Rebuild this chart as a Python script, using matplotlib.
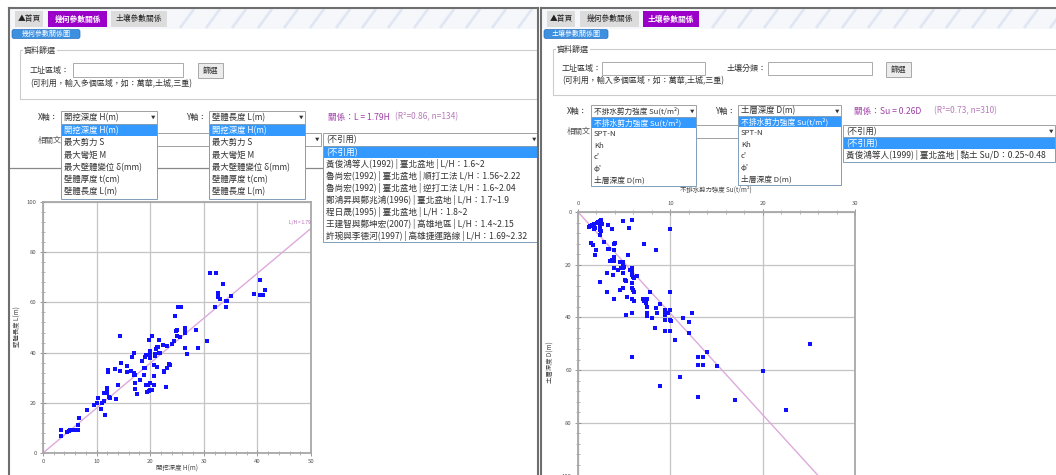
import matplotlib
matplotlib.use('Agg')
import matplotlib.pyplot as plt
from matplotlib.patches import Rectangle, FancyBboxPatch
from matplotlib.ticker import MultipleLocator

plt.rcParams['font.family'] = ['Noto Sans CJK TC', 'DejaVu Sans']

# ---- data ----
# left chart: excavation depth H(m) vs wall length L(m)
wall_H = [3.4, 3.4, 4.5, 5.1, 5.4, 6.0, 6.3, 6.6, 4.8, 6.5, 6.8, 8.3, 9.6, 10.1, 10.2,
          10.9, 11.0, 11.6, 11.4, 11.7, 11.9, 11.4, 11.9, 12.0, 12.3, 12.5, 12.2, 12.2,
          13.5, 13.6, 13.9, 14.4, 14.4, 14.6, 15.7, 15.7, 16.5, 16.6, 16.9, 16.9, 17.2,
          17.0, 17.1, 17.2, 17.6, 18.1, 18.4, 18.8, 19.0, 18.8, 19.1, 19.2, 19.3, 19.6,
          19.4, 19.8, 19.7, 19.9, 20.0, 19.9, 20.0, 19.9, 20.0, 20.3, 20.3, 20.7, 20.8,
          20.8, 20.9, 20.9, 21.1, 21.2, 21.5, 21.2, 21.6, 21.9, 21.7, 22.3, 22.5, 22.6,
          23.1, 23.0, 23.1, 23.6, 23.7, 24.0, 24.5, 24.7, 24.8, 25.0, 25.0, 25.1, 25.4,
          25.7, 25.5, 26.5, 26.5, 26.5, 26.5, 26.8, 28.6, 29.0, 30.6, 31.1, 32.1, 32.3,
          32.7, 32.7, 33.0, 33.5, 34.1, 34.3, 34.2, 35.0, 39.4, 40.4, 40.5, 40.8, 41.1,
          41.4]
wall_L = [9.0, 6.9, 8.3, 9.0, 9.0, 9.0, 9.0, 9.0, 8.6, 11.0, 13.9, 17.0, 19.2, 19.9, 21.9,
          17.5, 19.9, 15.0, 20.8, 23.8, 23.8, 24.0, 25.6, 25.9, 22.5, 21.9, 33.1, 32.1,
          33.4, 21.5, 26.9, 46.8, 32.8, 35.9, 34.8, 32.1, 32.5, 38.4, 39.7, 31.8, 31.1,
          31.0, 27.8, 25.4, 23.4, 28.9, 36.8, 33.8, 33.8, 30.9, 38.4, 39.1, 26.9, 27.1,
          24.5, 24.6, 45.0, 40.7, 39.7, 38.8, 37.9, 27.8, 25.2, 25.2, 46.6, 30.5, 26.9,
          35.1, 38.8, 39.4, 41.5, 42.4, 42.4, 34.4, 40.0, 39.7, 44.9, 42.9, 32.7, 32.1,
          42.8, 26.2, 33.8, 35.5, 35.1, 43.4, 44.8, 54.6, 48.7, 49.0, 46.8, 58.0, 58.0,
          58.0, 46.4, 47.9, 48.9, 49.7, 42.0, 39.3, 49.0, 42.0, 44.8, 71.9, 58.0, 71.9,
          63.8, 62.0, 61.2, 67.3, 60.7, 60.7, 58.0, 62.5, 63.3, 68.9, 62.9, 62.9, 62.9,
          64.9]

# right chart: undrained shear strength Su(t/m2) vs soil depth D(m)
soil_su = [1.15, 1.33, 1.5, 1.77, 1.8, 1.75, 2.05, 2.2, 2.4, 2.45, 2.4, 2.4, 2.4, 2.5, 2.35,
           2.55, 2.4, 3.3, 3.7, 4.9, 5.5, 5.9, 10.0, 1.4, 1.6, 2.0, 1.8, 2.8, 3.3, 3.4, 3.9,
           4.0, 3.9, 3.9, 3.5, 3.7, 3.9, 5.4, 7.2, 8.5, 2.4, 3.1, 3.1, 3.9, 3.8, 3.9, 4.3,
           4.5, 4.6, 4.7, 4.9, 4.9, 5.0, 4.9, 4.9, 4.9, 5.1, 5.2, 5.3, 5.2, 5.6, 5.8, 5.9,
           5.9, 5.9, 6.0, 6.1, 5.9, 6.0, 6.1, 5.9, 5.9, 6.1, 5.9, 5.9, 6.4, 7.0, 7.2, 7.4,
           7.5, 7.4, 7.5, 7.5, 7.5, 7.8, 8.0, 8.3, 8.5, 8.6, 8.9, 8.9, 9.4, 9.4, 9.4, 9.4,
           9.4, 9.6, 9.7, 10.0, 10.0, 10.0, 10.1, 10.0, 10.5, 11.0, 11.4, 12.0, 12.0, 12.4,
           13.0, 13.0, 13.0, 13.5, 13.5, 14.0, 15.0, 17.0, 20.0, 22.5, 25.1]
soil_d = [5.7, 5.2, 4.9, 4.4, 6.1, 6.3, 4.1, 3.9, 3.5, 3.2, 4.8, 5.4, 6.7, 7.3, 5.9,
          4.5, 8.6, 4.8, 6.5, 3.5, 6.1, 3.2, 6.5, 11.8, 12.4, 14.3, 16.2, 11.2, 14.1, 14.1,
          12.2, 11.8, 14.3, 16.9, 18.5, 18.1, 18.5, 16.2, 12.0, 14.6, 26.4, 23.2, 30.2,
          21.3, 23.8, 33.1, 21.9, 29.5, 19.1, 21.3, 19.1, 20.0, 20.7, 21.3, 23.2, 28.7,
          25.7, 26.3, 32.1, 39.0, 21.9, 22.5, 21.3, 21.9, 23.8, 24.5, 25.1, 27.0, 29.5,
          30.2, 28.9, 33.1, 33.6, 38.4, 55.2, 24.2, 33.1, 33.6, 33.1, 33.1, 34.4, 36.1,
          38.2, 39.4, 30.2, 40.1, 44.1, 36.5, 38.2, 34.9, 66.1, 38.4, 37.1, 39.0, 40.9,
          45.1, 38.2, 38.2, 30.2, 37.1, 41.0, 41.2, 45.0, 48.6, 62.8, 40.3, 41.8, 46.0,
          38.2, 55.2, 58.1, 70.1, 55.2, 58.1, 53.2, 58.3, 71.4, 60.2, 75.2, 50.1]

wall_ratio = 1.79
soil_ratio = 0.26

geo_items = ['開挖深度 H(m)', '最大剪力 S', '最大彎矩 M', '最大壁體變位 δ(mm)',
             '壁體厚度 t(cm)', '壁體長度 L(m)']
soil_items = ['不排水剪力強度 Su(t/m²)', 'SPT-N', 'Kh', "c'", "φ'", '土層深度 D(m)']
geo_refs = ['黃俊鴻等人(1992) | 臺北盆地 | L/H：1.6~2',
            '魯尚宏(1992) | 臺北盆地 | 順打工法 L/H：1.56~2.22',
            '魯尚宏(1992) | 臺北盆地 | 逆打工法 L/H：1.6~2.04',
            '鄭鴻昇與鄭兆鴻(1996) | 臺北盆地 | L/H：1.7~1.9',
            '程日晟(1995) | 臺北盆地 | L/H：1.8~2',
            '王建智與鄭坤宏(2007) | 高雄地區 | L/H：1.4~2.15',
            '許琬與李德河(1997) | 高雄捷運路線 | L/H：1.69~2.32']
soil_refs = ['黃俊鴻等人(1999) | 臺北盆地 | 黏土 Su/D：0.25~0.48']

W, H = 1056, 475
fig = plt.figure(figsize=(W / 100, H / 100), dpi=100)
ui = fig.add_axes([0, 0, 1, 1])
ui.set_xlim(0, W)
ui.set_ylim(H, 0)
ui.axis('off')

TXT = '#333333'
PURPLE = '#9a00c8'
BLUE_HI = '#3399ff'


def box(x0, y0, x1, y1, fc='white', ec='#a0a0a0', lw=0.7, z=2):
    ui.add_patch(Rectangle((x0, y0), x1 - x0, y1 - y0, fc=fc, ec=ec, lw=lw, zorder=z))


def txt(x, y, s, size=5.8, color=TXT, z=3, **kw):
    kw.setdefault('ha', 'left')
    kw.setdefault('va', 'center')
    ui.text(x, y, s, fontsize=size, color=color, zorder=z, **kw)


def select(x0, y0, x1, y1, label, size=6.0, z=2):
    box(x0, y0, x1, y1, z=z)
    txt(x0 + 3, (y0 + y1) / 2, label, size=size, z=z + 0.5)
    txt(x1 - 4, (y0 + y1) / 2, '▼', size=3.2, ha='center', z=z + 0.5)


def dropdown(x0, y0, x1, items, step, size=6.0, z=6):
    y1 = y0 + step * len(items) + 1
    box(x0, y0, x1, y1, ec='#7f9db9', z=z)
    box(x0 + 0.5, y0 + 0.5, x1 - 0.5, y0 + step, fc=BLUE_HI, ec='none', lw=0, z=z + 0.1)
    for i, it in enumerate(items):
        col = 'white' if i == 0 else TXT
        txt(x0 + 3, y0 + step * (i + 0.5) + 0.3, it, size=size, color=col, z=z + 0.5)


def tab_bar(x0, x1, active):
    # decorative header background
    box(x0, 9, x1, 28.5, fc='#f5f7fb', ec='none', lw=0, z=1)
    for k in range(14):
        xs = x0 + 170 + k * 26
        ui.plot([xs, xs + 14], [28, 9], color='#ccd8ea', lw=2.0, alpha=0.5,
                zorder=1.2, solid_capstyle='butt')
    tabs = [('▲首頁', 5, 33), ('幾何參數關係', 38, 97), ('土壤參數關係', 101, 157)]
    for i, (lab, a, b) in enumerate(tabs):
        if i == active:
            box(x0 + a, 11, x0 + b, 27, fc=PURPLE, ec='none', lw=0, z=2)
            txt(x0 + (a + b) / 2, 19, lab, size=5.6, color='white', ha='center', weight='bold')
        else:
            box(x0 + a, 11, x0 + b, 27, fc='#dcdcdc', ec='none', lw=0, z=2)
            txt(x0 + (a + b) / 2, 19, lab, size=5.6, color='#222222', ha='center')


def blue_tag(x0, x1, label):
    ui.add_patch(FancyBboxPatch((x0, 29.5), x1 - x0, 9, boxstyle='round,pad=0,rounding_size=2',
                                fc='#3d8fe0', ec='#2a70c0', lw=0.5, zorder=2))
    txt((x0 + x1) / 2, 34, label, size=5.0, color='white', ha='center')


def fieldset(x0, y0, x1, y1):
    box(x0, y0, x1, y1, fc='white', ec='#cccccc', lw=0.8, z=1.5)
    txt(x0 + 4, y0, '資料篩選', size=5.8, z=3, bbox=dict(fc='white', ec='none', pad=0.6))


# ---- panel frames ----
ui.plot([9, 538], [8, 8], color='#6e6e6e', lw=1.5, zorder=8)
ui.plot([9, 9], [8, H], color='#6e6e6e', lw=1.5, zorder=8)
ui.plot([538, 538], [8, H], color='#6e6e6e', lw=1.5, zorder=8)
ui.plot([541, W], [8, 8], color='#6e6e6e', lw=1.5, zorder=8)
ui.plot([541, 541], [8, H], color='#6e6e6e', lw=1.5, zorder=8)

# ---- left panel UI ----
tab_bar(10, 537, 1)
blue_tag(12, 80, '幾何參數關係圖')
fieldset(20, 50, 537, 99)
txt(30, 70, '工址區域：')
box(73, 63, 183, 77, ec='#aaaaaa')
box(198, 63, 223, 78, fc='#ececec', ec='#a8a8a8')
txt(210.5, 70.5, '篩選', size=5.6, ha='center')
txt(30, 84, '(可利用，輸入多個區域，如：萬華,土城,三重)')

txt(38, 117, 'X軸：')
select(61, 111, 157, 124, '開挖深度 H(m)')
txt(186, 117, 'Y軸：')
select(209, 111, 305, 124, '壁體長度 L(m)')
txt(328, 117, '關係：L = 1.79H', size=6.2, color='#a040a8')
txt(395, 117, '(R²=0.86, n=134)', size=6.0, color='#b67ab8')

txt(38, 140, '相關文', size=5.8, color='#555555')
select(62, 133, 321, 146, '')
select(323, 133, 538, 146, '(不引用)')
ui.plot([9, 323], [168, 168], color='#888888', lw=0.9, zorder=1.8)

dropdown(61, 124, 157, geo_items, 12.3)
dropdown(209, 124, 305, geo_items, 12.3)
dropdown(323, 146, 538, ['(不引用)'] + geo_refs, 11.9, size=6.2)

txt(177, 469, '開挖深度 H(m)', size=4.6, ha='center', color='#444444')
txt(18, 327, '壁體長度 L(m)', size=4.6, ha='center', rotation=90, color='#444444')

# ---- right panel UI ----
tab_bar(542, W, 2)
blue_tag(544, 608, '土壤參數關係圖')
fieldset(553, 49, W + 5, 95)
txt(562, 68, '工址區域：')
box(602, 62, 705, 74.5, ec='#aaaaaa')
txt(727, 68, '土壤分類：')
box(768, 62, 872, 74.5, ec='#aaaaaa')
box(886, 62, 911, 77, fc='#ececec', ec='#a8a8a8')
txt(898.5, 69.5, '篩選', size=5.6, ha='center')
txt(562, 80.5, '(可利用，輸入多個區域，如：萬華,土城,三重)')

txt(567, 111, 'X軸：')
select(591, 105, 696, 117, '不排水剪力強度 Su(t/m²)', size=5.5)
txt(715, 111, 'Y軸：')
select(738, 105, 841, 117, '土層深度 D(m)')
txt(854, 111, '關係：Su = 0.26D', size=6.2, color='#a040a8')
txt(934, 111, '(R²=0.73, n=310)', size=6.0, color='#b67ab8')

txt(567, 131, '相關文', size=5.8, color='#555555')
select(593, 125, 841, 137.5, '')
select(843, 125, 1055, 137.5, '(不引用)')

dropdown(591, 117, 696, soil_items, 11.4, size=5.6)
dropdown(738, 116, 841, soil_items, 11.4, size=5.6)
dropdown(843, 137, 1055, ['(不引用)'] + soil_refs, 12, size=6.2)

txt(716, 190, '不排水剪力強度 Su(t/m²)', size=4.6, ha='center', color='#444444')
txt(551, 362, '土層深度 D(m)', size=4.6, ha='center', rotation=90, color='#444444')


# ---- scatter charts ----
def px_axes(x0, y0, x1, y1):
    return fig.add_axes([x0 / W, 1 - y1 / H, (x1 - x0) / W, (y1 - y0) / H])


def style(ax):
    for s in ax.spines.values():
        s.set_color('#a8a8a8')
        s.set_linewidth(1.3)
    ax.grid(True, color='#c4c4c4', lw=0.9)
    ax.set_axisbelow(True)
    ax.tick_params(which='major', labelsize=4.3, labelcolor='#555555', color='#888888',
                   direction='inout', length=5, width=0.6, pad=2)
    ax.tick_params(which='minor', color='#999999', direction='inout', length=3, width=0.5)


axL = px_axes(43, 202, 311, 453)
axL.set_xlim(0, 50)
axL.set_ylim(0, 100)
axL.xaxis.set_major_locator(MultipleLocator(10))
axL.xaxis.set_minor_locator(MultipleLocator(2))
axL.yaxis.set_major_locator(MultipleLocator(20))
axL.yaxis.set_minor_locator(MultipleLocator(4))
style(axL)
axL.plot([0, 50], [0, 50 * wall_ratio], color='#dcaadc', lw=1.0, zorder=2)
axL.scatter(wall_H, wall_L, s=6, marker='s', color='#1010ff', lw=0, zorder=3)
axL.text(50, 50 * wall_ratio + 1.5, 'L/H = 1.79', fontsize=3.4, color='#b060b0',
         ha='right', va='bottom')

axR = px_axes(578, 212, 855, 475.5)
axR.set_xlim(0, 30)
axR.set_ylim(100, 0)
axR.xaxis.tick_top()
axR.xaxis.set_major_locator(MultipleLocator(10))
axR.xaxis.set_minor_locator(MultipleLocator(2))
axR.yaxis.set_major_locator(MultipleLocator(20))
axR.yaxis.set_minor_locator(MultipleLocator(4))
style(axR)
axR.plot([0, 100 * soil_ratio], [0, 100], color='#dcaadc', lw=1.0, zorder=2)
axR.scatter(soil_su, soil_d, s=6, marker='s', color='#1010ff', lw=0, zorder=3)

fig.savefig('out.png', dpi=100)
